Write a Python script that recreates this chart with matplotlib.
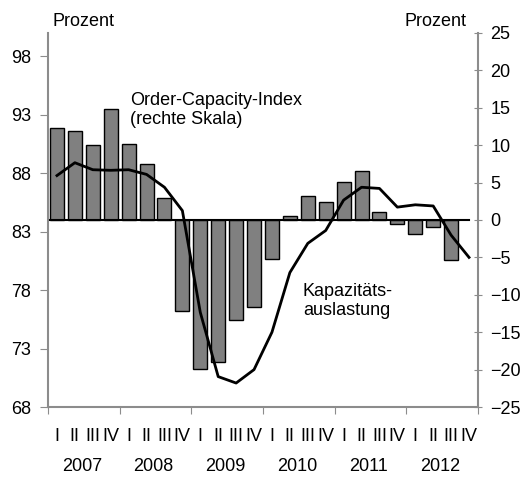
import matplotlib
matplotlib.use("Agg")
import matplotlib.pyplot as plt
import matplotlib.transforms as mtransforms
import numpy as np

plt.rcParams['font.family'] = ['Liberation Sans', 'DejaVu Sans']
plt.rcParams['font.size'] = 13

years = ["2007", "2008", "2009", "2010", "2011", "2012"]
quarters = ["I", "II", "III", "IV"]

# Order-Capacity-Index (rechte Skala), 2012 IV has no value
oci = [12.3, 11.9, 10.0, 14.8, 10.2, 7.5, 2.9, -12.2,
       -19.9, -19.0, -13.4, -11.6, -5.2, 0.5, 3.2, 2.4,
       5.1, 6.6, 1.1, -0.5, -1.9, -0.9, -5.4, np.nan]

# Kapazitaetsauslastung (linke Skala)
kap = [87.8, 88.9, 88.3, 88.25, 88.3, 87.9, 86.8, 84.8,
       76.1, 70.6, 70.05, 71.2, 74.4, 79.5, 82.0, 83.1,
       85.7, 86.8, 86.7, 85.1, 85.3, 85.2, 82.7, 80.8]

spine_col = "#8c8c8c"
bar_col = "#808080"

fig = plt.figure(figsize=(5.24, 4.82), dpi=100)
ax = fig.add_axes([0.0916, 0.1556, 0.8206, 0.776])
ax2 = ax.twinx()

x = np.arange(len(oci))
ax.bar(x, oci, width=0.78, color=bar_col, edgecolor="black", linewidth=1.0, zorder=2)
ax.axhline(0, xmin=0.005, xmax=0.98, color="black", linewidth=1.5, zorder=3)
ax.set_ylim(-25, 25)
ax.set_xlim(-0.5, 23.5)
ax.yaxis.tick_right()
ax.set_yticks(np.arange(-25, 26, 5))
ax.tick_params(axis="y", direction="inout", length=6, color=spine_col, pad=6)

# x axis: year boundaries as ticks, quarters as minor labels
ax.set_xticks(np.arange(-0.5, 24, 4))
ax.set_xticklabels([])
ax.set_xticks(x, minor=True)
ax.set_xticklabels(quarters * len(years), minor=True)
ax.tick_params(axis="x", which="major", direction="out", length=5, color=spine_col)
ax.tick_params(axis="x", which="minor", length=0, pad=15)

trans = mtransforms.blended_transform_factory(ax.transData, ax.transAxes)
for i, yr in enumerate(years):
    ax.text(i * 4 + 1.4, -0.158, yr, transform=trans, ha="center", va="center")

for s in ["left", "right", "bottom"]:
    ax.spines[s].set_color(spine_col)
    ax.spines[s].set_linewidth(1.5)
ax.spines["top"].set_visible(False)

ax2.plot(x, kap, color="black", linewidth=2, zorder=4)
ax2.set_ylim(68, 100)
ax2.set_yticks(np.arange(68, 99, 5))
ax2.yaxis.set_ticks_position("left")
ax2.yaxis.set_label_position("left")
ax2.tick_params(axis="y", direction="out", length=6, color=spine_col, pad=6)
for s in ax2.spines.values():
    s.set_visible(False)

ax2.text(4.08, 93.4, "Order-Capacity-Index\n(rechte Skala)", ha="left", va="center",
         linespacing=1.15)
ax2.text(13.73, 77.1, "Kapazitäts-\nauslastung", ha="left", va="center", linespacing=1.15)

fig.text(53 / 524, 1 - 21 / 482, "Prozent", ha="left", va="center")
fig.text(436 / 524, 1 - 21 / 482, "Prozent", ha="center", va="center")

fig.savefig("out.png", dpi=100)
